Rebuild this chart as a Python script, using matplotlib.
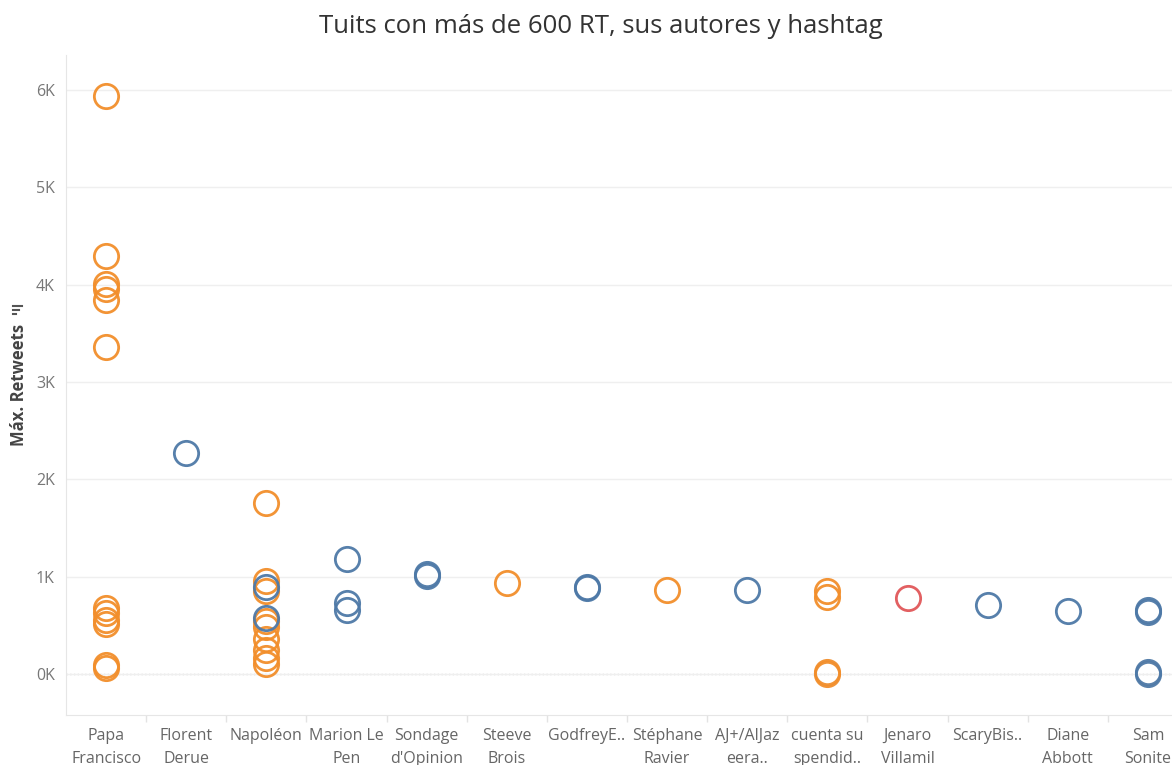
# Tuits con más de 600 RT
import matplotlib
matplotlib.use("Agg")
import matplotlib.pyplot as plt
from matplotlib.ticker import FixedLocator, FuncFormatter

plt.rcParams["font.family"] = ["Open Sans", "DejaVu Sans"]

# autores (eje x)
autores = ["Papa\nFrancisco", "Florent\nDerue", "Napoléon", "Marion Le\nPen",
           "Sondage\nd'Opinion", "Steeve\nBrois", "GodfreyE..", "Stéphane\nRavier",
           "AJ+/AlJaz\neera..", "cuenta su\nspendid..", "Jenaro\nVillamil",
           "ScaryBis..", "Diane\nAbbott", "Sam\nSonite"]

# puntos: autor, retweets, grupo de color
punto_autor = [0, 0, 0, 0, 0, 0, 0, 0, 0, 0, 0, 0,
               1,
               2, 2, 2, 2, 2, 2, 2, 2, 2, 2, 2,
               3, 3, 3,
               4, 4,
               5,
               6, 6,
               7,
               8,
               9, 9, 9, 9,
               10,
               11,
               12,
               13, 13, 13, 13]
punto_rt = [5940, 4300, 4010, 3960, 3840, 3360, 680, 630, 560, 510, 90, 60,
            2270,
            1760, 960, 900, 850, 580, 550, 480, 360, 250, 170, 100,
            1180, 730, 660,
            1030, 1010,
            940,
            900, 880,
            860,
            860,
            850, 790, 20, 0,
            780,
            710,
            650,
            660, 640, 20, 0]
punto_grupo = ["o"] * 12 + ["b"] + ["o", "o", "b", "o", "b", "o", "o", "o", "o", "o", "o"] + \
              ["b"] * 3 + ["b"] * 2 + ["o"] + ["b"] * 2 + ["o"] + ["b"] + ["o"] * 4 + \
              ["r"] + ["b"] + ["b"] + ["b"] * 4

colores = {"o": "#F28E2B", "b": "#4E79A7", "r": "#E15759"}
yticks = [0, 1000, 2000, 3000, 4000, 5000, 6000]

fig = plt.figure(figsize=(11.72, 7.65), dpi=100)
ax = fig.add_axes([66 / 1172, 50 / 765, 1 - 66 / 1172, 660 / 765])

for g in ["o", "b", "r"]:
    xs = [a for a, gg in zip(punto_autor, punto_grupo) if gg == g]
    ys = [v for v, gg in zip(punto_rt, punto_grupo) if gg == g]
    ax.plot(xs, ys, linestyle="none", marker="o", markersize=17.5,
            markerfacecolor="none", markeredgecolor=colores[g],
            markeredgewidth=2.0, alpha=0.95, zorder=3)

ax.set_xlim(-0.5, 13.3)
ax.set_ylim(-420, 6360)

# cuadrícula
ax.yaxis.set_major_locator(FixedLocator(yticks))
ax.yaxis.set_major_formatter(FuncFormatter(lambda v, p: f"{int(v / 1000)}K"))
ax.grid(axis="y", color="#efefef", linewidth=1, zorder=0)
ax.axhline(0, color="#999999", linestyle=(0, (1, 2)), linewidth=0.9, zorder=1)

ax.set_xticks(range(len(autores)))
ax.set_xticklabels(autores, fontsize=11.5, color="#666666", linespacing=1.65)
ax.set_xticks([i + 0.5 for i in range(len(autores) - 1)], minor=True)
ax.tick_params(axis="x", which="major", length=0, pad=9)
ax.tick_params(axis="x", which="minor", length=5, color="#e3e3e3", width=1)
ax.tick_params(axis="y", length=0, pad=8, labelsize=11.5, labelcolor="#777777")

for s in ["top", "right"]:
    ax.spines[s].set_visible(False)
ax.spines["left"].set_color("#e6e6e6")
ax.spines["bottom"].set_color("#e6e6e6")

fig.text(0.513, 0.966, "Tuits con más de 600 RT, sus autores y hashtag",
         ha="center", va="center", fontsize=18.5, color="#333333")
fig.text(0.016, 0.497, "Máx. Retweets", rotation=90, ha="center", va="center",
         fontsize=12, fontweight="bold", color="#444444")
# icono de orden
for w, y0 in [(9, 306), (6, 310), (3, 314)]:
    fig.add_artist(plt.Line2D([13 / 1172, (13 + w) / 1172],
                              [1 - y0 / 765, 1 - y0 / 765],
                              color="#555555", linewidth=1.5,
                              transform=fig.transFigure))

fig.savefig("out.png", dpi=100)
